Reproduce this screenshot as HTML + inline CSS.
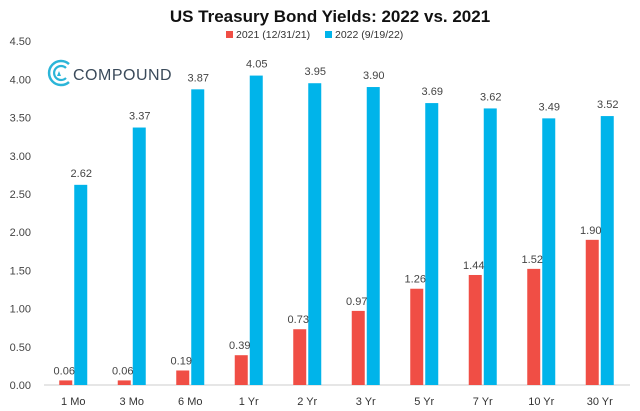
<!DOCTYPE html>
<html><head><meta charset="utf-8"><style>
body{margin:0;background:#fff;}
svg{display:block;font-family:"Liberation Sans",sans-serif;}
</style></head><body>
<svg id="chart" width="640" height="411" viewBox="0 0 640 411">
<text x="330" y="22" text-anchor="middle" font-size="17" font-weight="bold" fill="#111">US Treasury Bond Yields: 2022 vs. 2021</text>
<g>
<rect x="226" y="31" width="7" height="7" fill="#F04E45"/>
<text x="236" y="38" font-size="10.5" fill="#333">2021 (12/31/21)</text>
<rect x="325" y="31" width="7" height="7" fill="#00B4EA"/>
<text x="335" y="38" font-size="10.5" fill="#333">2022 (9/19/22)</text>
</g>
<g>
<path d="M69 64 A12 12 0 1 0 69 82" stroke="#2BB5D8" stroke-width="2.5" fill="none"/>
<path d="M66 68 A7 7 0 1 0 66 78" stroke="#2BB5D8" stroke-width="2.2" fill="none"/>
<polygon points="57,76 59,71 61,76" fill="#2BB5D8"/>
<text x="73" y="80" font-size="16" fill="#3A4A5A" letter-spacing="0.5">COMPOUND</text>
</g>
<g id="yaxis"></g>
<line x1="44" y1="385" x2="630" y2="385" stroke="#ccc" stroke-width="1"/>
<g id="bars"></g>
</svg>
<script>
const categories=["1 Mo","3 Mo","6 Mo","1 Yr","2 Yr","3 Yr","5 Yr","7 Yr","10 Yr","30 Yr"];
const values2021=[0.06,0.06,0.19,0.39,0.73,0.97,1.26,1.44,1.52,1.90];
const values2022=[2.62,3.37,3.87,4.05,3.95,3.90,3.69,3.62,3.49,3.52];
const yTicks=["0.00","0.50","1.00","1.50","2.00","2.50","3.00","3.50","4.00","4.50"];
const NS="http://www.w3.org/2000/svg";
const y0=385,yScale=76.4,x0=44,step=58.5;
const y=v=>y0-v*yScale;
const xc=i=>x0+step*(i+0.5);
function mk(tag,attrs,parent){const e=document.createElementNS(NS,tag);for(const k in attrs)e.setAttribute(k,attrs[k]);parent.appendChild(e);return e;}
const ya=document.getElementById('yaxis');
yTicks.forEach(t=>{
  const e=mk('text',{x:31,y:y(parseFloat(t))+4,'text-anchor':'end','font-size':'11',fill:'#444'},ya);
  
  
  e.textContent=t;
});
const g=document.getElementById('bars');
categories.forEach((c,i)=>{
  const cx=xc(i);
  const r=mk('rect',{x:cx-14,y:y(values2021[i]),width:13,height:values2021[i]*yScale,fill:'#F04E45'},g);
  
  
  const b=mk('rect',{x:cx+1,y:y(values2022[i]),width:13,height:values2022[i]*yScale,fill:'#00B4EA'},g);
  
  
  const l1=mk('text',{x:cx-9,y:y(values2021[i])-6,'text-anchor':'middle','font-size':'11',fill:'#444'},g);
  
  
  l1.textContent=values2021[i].toFixed(2);
  const l2=mk('text',{x:cx+8,y:y(values2022[i])-8,'text-anchor':'middle','font-size':'11',fill:'#444'},g);
  
  
  l2.textContent=values2022[i].toFixed(2);
  const cl=mk('text',{x:cx,y:405,'text-anchor':'middle','font-size':'11',fill:'#333'},g);
  
  
  cl.textContent=c;
});
</script>
</body></html>
